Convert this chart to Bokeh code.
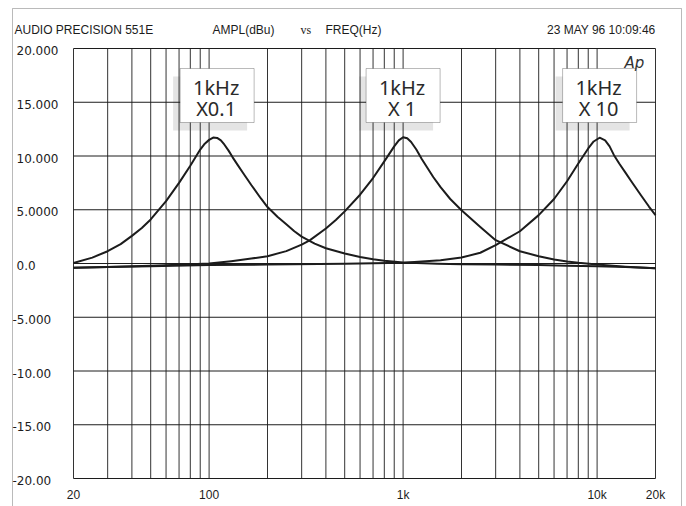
import math
from bokeh.plotting import figure
from bokeh.models import Label, BoxAnnotation, Range1d
from bokeh.embed import file_html
from bokeh.resources import INLINE

# ---------------- data ----------------
f1 = [20, 25, 30, 35, 40, 45, 50, 60, 70, 80, 90, 95, 100, 105, 110, 115, 120, 126, 132, 140,
      150, 165, 185, 200, 225, 250, 275, 300, 350, 400, 500, 600, 700, 800, 1000, 1500, 2000,
      3000, 5000, 7000, 10000, 14000, 20000]
a1 = [0.05, 0.55, 1.14, 1.8, 2.57, 3.3, 4.1, 5.8, 7.5, 9.1, 10.6, 11.15, 11.5, 11.72, 11.68, 11.45, 11.05, 10.5, 9.9, 9.2,
      8.4, 7.3, 6.05, 5.25, 4.35, 3.65, 3.0, 2.5, 1.85, 1.42, 0.93, 0.61, 0.4, 0.25, 0.09, -0.02, -0.06,
      -0.1, -0.15, -0.2, -0.25, -0.33, -0.45]

f2 = [20, 30, 50, 70, 100, 130, 165, 200, 250, 300, 330, 400, 450, 500, 600, 700, 800, 900, 950, 1000, 1050,
      1100, 1170, 1250, 1430, 1560, 1750, 2000, 2500, 3000, 4000, 5000, 6000, 7000, 8000, 10000, 14000, 20000]
a2 = [-0.4, -0.33, -0.22, -0.12, 0.0, 0.22, 0.46, 0.68, 1.15, 1.75, 2.15, 3.25, 4.05, 4.85, 6.4, 7.95, 9.5, 10.9, 11.45, 11.75, 11.65,
      11.3, 10.6, 9.7, 8.05, 7.1, 6.0, 4.95, 3.4, 2.17, 1.14, 0.68, 0.37, 0.19, 0.06, -0.1, -0.3, -0.45]

f3 = [20, 30, 50, 100, 200, 500, 1000, 1560, 2000, 2500, 3000, 4000, 5000, 6000, 7000, 8000, 9000, 9600,
      10300, 11000, 11600, 12200, 13000, 14000, 15000, 16900, 18500, 20000]
a3 = [-0.4, -0.33, -0.25, -0.15, -0.1, -0.03, 0.08, 0.3, 0.55, 1.0, 1.7, 3.0, 4.5, 6.0, 7.65, 9.3, 10.7, 11.35,
      11.7, 11.45, 10.9, 10.1, 9.3, 8.45, 7.65, 6.3, 5.3, 4.5]

x_grid = [20, 30, 40, 50, 60, 70, 80, 90, 100, 200, 300, 400, 500, 600, 700, 800, 900, 1000,
          2000, 3000, 4000, 5000, 6000, 7000, 8000, 9000, 10000, 20000]
x_ticks = [20, 100, 1000, 10000, 20000]
x_labels = ["20", "100", "1k", "10k", "20k"]
y_ticks = [20, 15, 10, 5, 0, -5, -10, -15, -20]
y_labels = ["20.000", "15.000", "10.000", "5.0000", "0.0", "-5.000", "-10.00", "-15.00", "-20.00"]

box_freqs = [110, 1000, 10300]
box_line1 = ["1kHz", "1kHz", "1kHz"]
box_line2 = ["X0.1", "X 1", "X 10"]

header_left = "AUDIO PRECISION 551E"
header_y = "AMPL(dBu)"
header_vs = "vs"
header_x = "FREQ(Hz)"
header_date = "23 MAY 96 10:09:46"

# ---------------- layout ----------------
W, H = 686, 506
PL, PR, PT, PB = 73, 655, 48, 478          # plot area in canvas pixels
fmin, fmax = x_ticks[0], x_ticks[-1]
ymin, ymax = y_ticks[-1], y_ticks[0]
ppd = (PR - PL) / math.log10(fmax / fmin)  # pixels per decade
ppu = (PB - PT) / (ymax - ymin)            # pixels per dB
x_range = Range1d(fmin * 10 ** (-PL / ppd), fmax * 10 ** ((W - PR) / ppd))
y_range = Range1d(ymin - (H - PB) / ppu, ymax + PT / ppu)

def sy(y):  # canvas y (from top) -> screen y (from bottom)
    return H - y

def fx(f):  # frequency -> canvas x
    return PL + math.log10(f / fmin) * ppd

INK = "#1c1c1c"
SANS = "Liberation Sans"

p = figure(width=W, height=H, x_axis_type="log", x_range=x_range, y_range=y_range,
           x_axis_location=None, y_axis_location=None,
           toolbar_location=None, output_backend="svg",
           min_border_left=0, min_border_right=0, min_border_top=0, min_border_bottom=0)
p.grid.visible = False
p.background_fill_color = "white"
p.border_fill_color = "white"
p.outline_line_color = None

# shadows of annotation boxes (under grid)
BW, BTOP, BBOT = 74, 68, 122
for f in box_freqs:
    c = fx(f)
    p.add_layout(BoxAnnotation(left=c - BW / 2 - 7, right=c + BW / 2 - 7,
                               top=sy(BTOP + 8), bottom=sy(BBOT + 8),
                               left_units="screen", right_units="screen",
                               top_units="screen", bottom_units="screen",
                               fill_color="#e4e4e4", fill_alpha=1.0, line_color=None,
                               level="underlay"))

# grid
p.segment(x0=x_grid, y0=[ymin] * len(x_grid), x1=x_grid, y1=[ymax] * len(x_grid),
          line_color="#333333", line_width=1)
p.segment(x0=[fmin] * len(y_ticks), y0=y_ticks, x1=[fmax] * len(y_ticks), y1=y_ticks,
          line_color=INK, line_width=1)

# curves
for fs, vs in ((f1, a1), (f2, a2), (f3, a3)):
    p.line(fs, vs, line_color=INK, line_width=2, line_join="round")

# annotation boxes
for f, t1, t2 in zip(box_freqs, box_line1, box_line2):
    c = fx(f)
    p.add_layout(BoxAnnotation(left=c - BW / 2, right=c + BW / 2, top=sy(BTOP), bottom=sy(BBOT),
                               left_units="screen", right_units="screen",
                               top_units="screen", bottom_units="screen",
                               fill_color="white", fill_alpha=1.0, line_color=INK, line_width=1))
    for txt, yy in ((t1, 86.5), (t2, 108)):
        p.add_layout(Label(x=f, y=sy(yy), x_units="data", y_units="screen", x_offset=-1,
                           text=txt, text_font="Noto Sans", text_font_size="20px",
                           text_color="#2a2a2a", text_align="center", text_baseline="middle"))

# Ap logo
p.add_layout(Label(x=624, y=sy(62), x_units="screen", y_units="screen", text="Ap",
                   text_font="DejaVu Sans", text_font_style="italic", text_font_size="15px",
                   text_color="#333333", text_align="left", text_baseline="middle"))

# outer frame
p.add_layout(BoxAnnotation(left=12, right=681, top=sy(8), bottom=-60,
                           left_units="screen", right_units="screen",
                           top_units="screen", bottom_units="screen",
                           fill_color=None, fill_alpha=0, line_color=INK, line_width=1,
                           level="overlay"))

# header
HY = 29
for txt, x, font, align in ((header_left, 14, SANS, "left"), (header_y, 212, SANS, "left"),
                            (header_vs, 300, "Liberation Serif", "left"), (header_x, 325, SANS, "left"),
                            (header_date, 655, SANS, "right")):
    p.add_layout(Label(x=x, y=sy(HY), x_units="screen", y_units="screen", text=txt,
                       text_font=font, text_font_size="12px", text_color=INK,
                       text_align=align, text_baseline="middle"))

# y tick labels
for v, t in zip(y_ticks, y_labels):
    p.add_layout(Label(x=(16 if v >= 0 else 12), y=v, x_units="screen", y_units="data", y_offset=-2,
                       text=t, text_font="DejaVu Sans", text_font_size="12px", text_color=INK,
                       text_align="left", text_baseline="middle"))

# x tick labels
for v, t in zip(x_ticks, x_labels):
    p.add_layout(Label(x=v, y=sy(494), x_units="data", y_units="screen",
                       text=t, text_font=SANS, text_font_size="12px", text_color=INK,
                       text_align="center", text_baseline="middle"))

open("out.html", "w").write(file_html(p, INLINE))
